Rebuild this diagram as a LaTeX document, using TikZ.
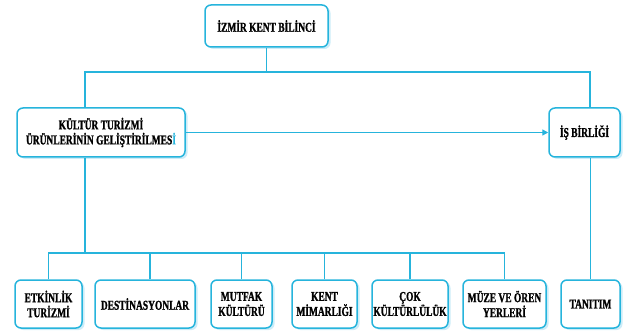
\documentclass[tikz,border=0pt]{standalone}
\usepackage{fontspec}
\setmainfont{Liberation Serif}[FakeStretch=0.7,FakeBold=1.2]
\usetikzlibrary{shadows,arrows.meta}
\definecolor{cl}{RGB}{38,180,220}
\definecolor{sh}{RGB}{205,236,248}
\begin{document}
\begin{tikzpicture}[x=1pt,y=-1pt,
 box/.style={draw=cl, line width=1.5pt, rounded corners=6pt, fill=white,
   font=\bfseries\fontsize{13.5}{15}\selectfont, align=center, inner sep=0pt,
   drop shadow={shadow xshift=2.5pt, shadow yshift=-2pt, fill=sh, opacity=1}},
 ln/.style={draw=cl, line width=1.3pt}]
\useasboundingbox (0,0) rectangle (632,334);
\node[box, minimum width=123, minimum height=42] (top) at (266.5,26) {İZMİR KENT BİLİNCİ};
\node[box, minimum width=168, minimum height=49] (kult) at (101,132.5) {KÜLTÜR TURİZMİ\\ÜRÜNLERİNİN GELİŞTİRİLMES\textcolor{cl}{İ}};
\node[box, minimum width=71, minimum height=49] (is) at (584.5,132.5) {İŞ BİRLİĞİ};
\node[box, minimum width=67, minimum height=48] (etk) at (48.5,304) {ETKİNLİK\\TURİZMİ};
\node[box, minimum width=100, minimum height=48] (dest) at (145,304) {DESTİNASYONLAR};
\node[box, minimum width=61, minimum height=48] (mut) at (241.5,304) {MUTFAK\\KÜLTÜRÜ};
\node[box, minimum width=65, minimum height=48] (kent) at (324.5,304) {KENT\\MİMARLIĞI};
\node[box, minimum width=76, minimum height=48] (cok) at (410,304) {ÇOK\\KÜLTÜRLÜLÜK};
\node[box, minimum width=83, minimum height=48] (muze) at (504.5,304) {MÜZE VE ÖREN\\YERLERİ};
\node[box, minimum width=59, minimum height=48] (tan) at (590.5,304) {TANITIM};
\coordinate (a1) at (85,72);
\coordinate (a2) at (590,72);
\coordinate (b0) at (85,253);
\coordinate (d0) at (150,253);
\draw[ln] (top.south) -- (top.south |- a1);
\draw[ln] (kult.north -| a1) -- (a1) -- (a2) -- (is.north -| a2);
\draw[ln,-{Triangle[length=6pt,width=6pt]}] (kult.east) -- (is.west);
\draw[ln] (kult.south -| b0) -- (b0);
\draw[ln] (etk.north) -- (etk.north |- b0) -- (muze.north |- b0) -- (muze.north);
\draw[ln] (dest.north -| d0) -- (d0);
\draw[ln] (mut.north) -- (mut.north |- b0);
\draw[ln] (kent.north) -- (kent.north |- b0);
\draw[ln] (cok.north) -- (cok.north |- b0);
\draw[ln] (is.south -| tan.north) -- (tan.north);
\end{tikzpicture}
\end{document}
